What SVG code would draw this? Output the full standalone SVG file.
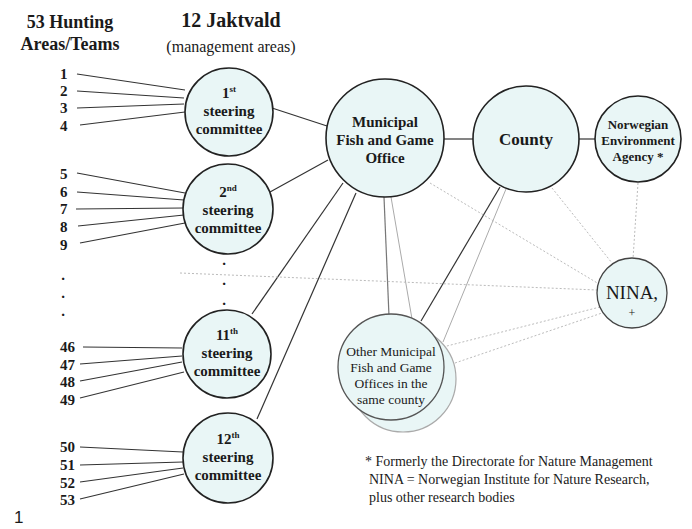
<svg xmlns="http://www.w3.org/2000/svg" width="692" height="529" viewBox="0 0 692 529">
<style>
.hdr{font-family:"Liberation Serif","Times New Roman","DejaVu Serif",serif;font-weight:bold;font-size:18px;fill:#1a1a1a;text-anchor:middle}
.sub{font-family:"Liberation Serif",serif;font-size:16px;fill:#1a1a1a;text-anchor:middle}
.num{font-family:"Liberation Serif","Times New Roman","DejaVu Serif",serif;font-weight:bold;font-size:15px;fill:#1a1a1a}
.dot{font-family:"Liberation Serif","Times New Roman","DejaVu Serif",serif;font-weight:bold;font-size:15px;fill:#1a1a1a;text-anchor:middle}
.lbl{font-family:"Liberation Serif","Times New Roman","DejaVu Serif",serif;font-weight:bold;font-size:15px;fill:#1a1a1a;text-anchor:middle}
.lblr{font-family:"Liberation Serif",serif;font-size:13.5px;fill:#1a1a1a;text-anchor:middle}
.note{font-family:"Liberation Serif",serif;font-size:14px;fill:#1a1a1a}
.node{fill:#e9f6f6;stroke:#222;stroke-width:1.6}
.solid{stroke:#333;stroke-width:1.2;fill:none}
.gray{stroke:#777;stroke-width:1.2;fill:none}
.lgray{stroke:#aaa;stroke-width:1;fill:none}
.dash{stroke:#bbb;stroke-width:1;stroke-dasharray:2 2;fill:none}
</style>

<g id="headers">
<text class="hdr" x="70" y="28">53 Hunting</text>
<text class="hdr" x="70" y="50">Areas/Teams</text>
<text class="hdr" x="231" y="27" style="font-size:20px">12 Jaktvald</text>
<text class="sub" x="231" y="52">(management areas)</text>
</g>

<g id="connectors">
<line class="solid" x1="77" y1="74" x2="185" y2="90"/>
<line class="solid" x1="77" y1="91" x2="184" y2="98"/>
<line class="solid" x1="77" y1="108" x2="184" y2="104"/>
<line class="solid" x1="80" y1="125" x2="185" y2="112"/>

<line class="solid" x1="77" y1="173" x2="185" y2="193"/>
<line class="solid" x1="77" y1="192" x2="184" y2="200"/>
<line class="solid" x1="76" y1="209" x2="184" y2="208"/>
<line class="solid" x1="78" y1="226" x2="184" y2="215"/>
<line class="solid" x1="80" y1="243" x2="185" y2="223"/>

<line class="solid" x1="83" y1="347" x2="182" y2="348"/>
<line class="solid" x1="80" y1="364" x2="182" y2="356"/>
<line class="solid" x1="80" y1="381" x2="182" y2="362"/>
<line class="solid" x1="80" y1="398" x2="184" y2="372"/>

<line class="solid" x1="80" y1="447" x2="183" y2="452"/>
<line class="solid" x1="80" y1="465" x2="183" y2="462"/>
<line class="solid" x1="80" y1="482" x2="183" y2="468"/>
<line class="solid" x1="80" y1="499" x2="184" y2="474"/>

<line class="solid" x1="272" y1="108" x2="327" y2="126"/>
<line class="solid" x1="270" y1="192" x2="328" y2="160"/>
<line class="solid" x1="252" y1="314" x2="343" y2="183"/>
<line class="solid" x1="257" y1="419" x2="356" y2="193"/>

<line class="solid" x1="444" y1="139" x2="473" y2="139"/>
<line class="solid" x1="579" y1="139" x2="596" y2="139"/>

<line class="gray" x1="384" y1="197" x2="389" y2="316"/>
<line class="lgray" x1="391" y1="197" x2="412" y2="319"/>
<line class="solid" x1="500" y1="187" x2="421" y2="321"/>
<line class="lgray" x1="506" y1="189" x2="443" y2="342"/>

<line class="dash" x1="430" y1="183" x2="599" y2="284"/>
<line class="dash" x1="552" y1="188" x2="612" y2="263"/>
<line class="dash" x1="638" y1="183" x2="633" y2="259"/>
<line class="dash" x1="180" y1="273" x2="597" y2="290"/>
<line class="dash" x1="443" y1="347" x2="600" y2="307"/>
<line class="dash" x1="455" y1="363" x2="602" y2="313"/>
</g>

<g id="team-numbers">
<text class="num" x="60" y="79">1</text>
<text class="num" x="60" y="96">2</text>
<text class="num" x="60" y="113">3</text>
<text class="num" x="60" y="131">4</text>
<text class="num" x="60" y="179">5</text>
<text class="num" x="60" y="197">6</text>
<text class="num" x="60" y="214">7</text>
<text class="num" x="60" y="232">8</text>
<text class="num" x="60" y="250">9</text>
<text class="num" x="60" y="352">46</text>
<text class="num" x="60" y="370">47</text>
<text class="num" x="60" y="387">48</text>
<text class="num" x="60" y="405">49</text>
<text class="num" x="60" y="452">50</text>
<text class="num" x="60" y="470">51</text>
<text class="num" x="60" y="488">52</text>
<text class="num" x="60" y="505">53</text>
<text class="dot" x="63" y="280">.</text>
<text class="dot" x="63" y="298">.</text>
<text class="dot" x="63" y="316">.</text>
<text class="dot" x="224" y="265">.</text>
<text class="dot" x="224" y="285">.</text>
<text class="dot" x="224" y="305">.</text>
</g>

<g id="committee-1">
<circle class="node" cx="229" cy="112" r="44"/>
<text class="lbl" x="229" y="98">1<tspan font-size="9" dy="-6">st</tspan></text>
<text class="lbl" x="229" y="116">steering</text>
<text class="lbl" x="229" y="134">committee</text>
</g>
<g id="committee-2">
<circle class="node" cx="228" cy="209" r="45"/>
<text class="lbl" x="228" y="197">2<tspan font-size="9" dy="-6">nd</tspan></text>
<text class="lbl" x="228" y="215">steering</text>
<text class="lbl" x="228" y="233">committee</text>
</g>
<g id="committee-11">
<circle class="node" cx="227" cy="354" r="44"/>
<text class="lbl" x="227" y="340">11<tspan font-size="9" dy="-6">th</tspan></text>
<text class="lbl" x="227" y="358">steering</text>
<text class="lbl" x="227" y="376">committee</text>
</g>
<g id="committee-12">
<circle class="node" cx="228" cy="458" r="45"/>
<text class="lbl" x="228" y="444">12<tspan font-size="9" dy="-6">th</tspan></text>
<text class="lbl" x="228" y="462">steering</text>
<text class="lbl" x="228" y="480">committee</text>
</g>

<g id="municipal">
<circle class="node" cx="385" cy="138" r="59"/>
<text class="lbl" x="385" y="127">Municipal</text>
<text class="lbl" x="385" y="145">Fish and Game</text>
<text class="lbl" x="385" y="163">Office</text>
</g>
<g id="county">
<circle class="node" cx="526" cy="139" r="53"/>
<text class="lbl" x="526" y="145" style="font-size:17px">County</text>
</g>
<g id="agency">
<circle class="node" cx="638" cy="139" r="43"/>
<text class="lbl" x="638" y="129" style="font-size:13px">Norwegian</text>
<text class="lbl" x="638" y="145" style="font-size:13px">Environment</text>
<text class="lbl" x="638" y="161" style="font-size:13px">Agency *</text>
</g>
<g id="nina">
<circle class="node" cx="632" cy="293" r="35" style="stroke:#444;stroke-width:1.3"/>
<text class="lblr" x="632" y="299" style="font-size:19px">NINA,</text>
<text class="lblr" x="632" y="317" style="font-size:12px">+</text>
</g>
<g id="other-municipal">
<circle class="node" cx="403" cy="379" r="53" style="stroke:#aaa;stroke-width:1.2"/>
<circle class="node" cx="391" cy="367" r="53" style="stroke:#555;stroke-width:1.3"/>
<text class="lblr" x="391" y="356">Other Municipal</text>
<text class="lblr" x="391" y="372">Fish and Game</text>
<text class="lblr" x="391" y="388">Offices in the</text>
<text class="lblr" x="391" y="404">same county</text>
</g>

<g id="footnote">
<text class="note" x="365" y="466">* Formerly the Directorate for Nature Management</text>
<text class="note" x="369" y="484">NINA = Norwegian Institute for Nature Research,</text>
<text class="note" x="369" y="502">plus other research bodies</text>
</g>
<text x="14" y="523" style="font-family:'Liberation Sans',sans-serif;font-size:17px;fill:#1a1a1a">1</text>
</svg>
